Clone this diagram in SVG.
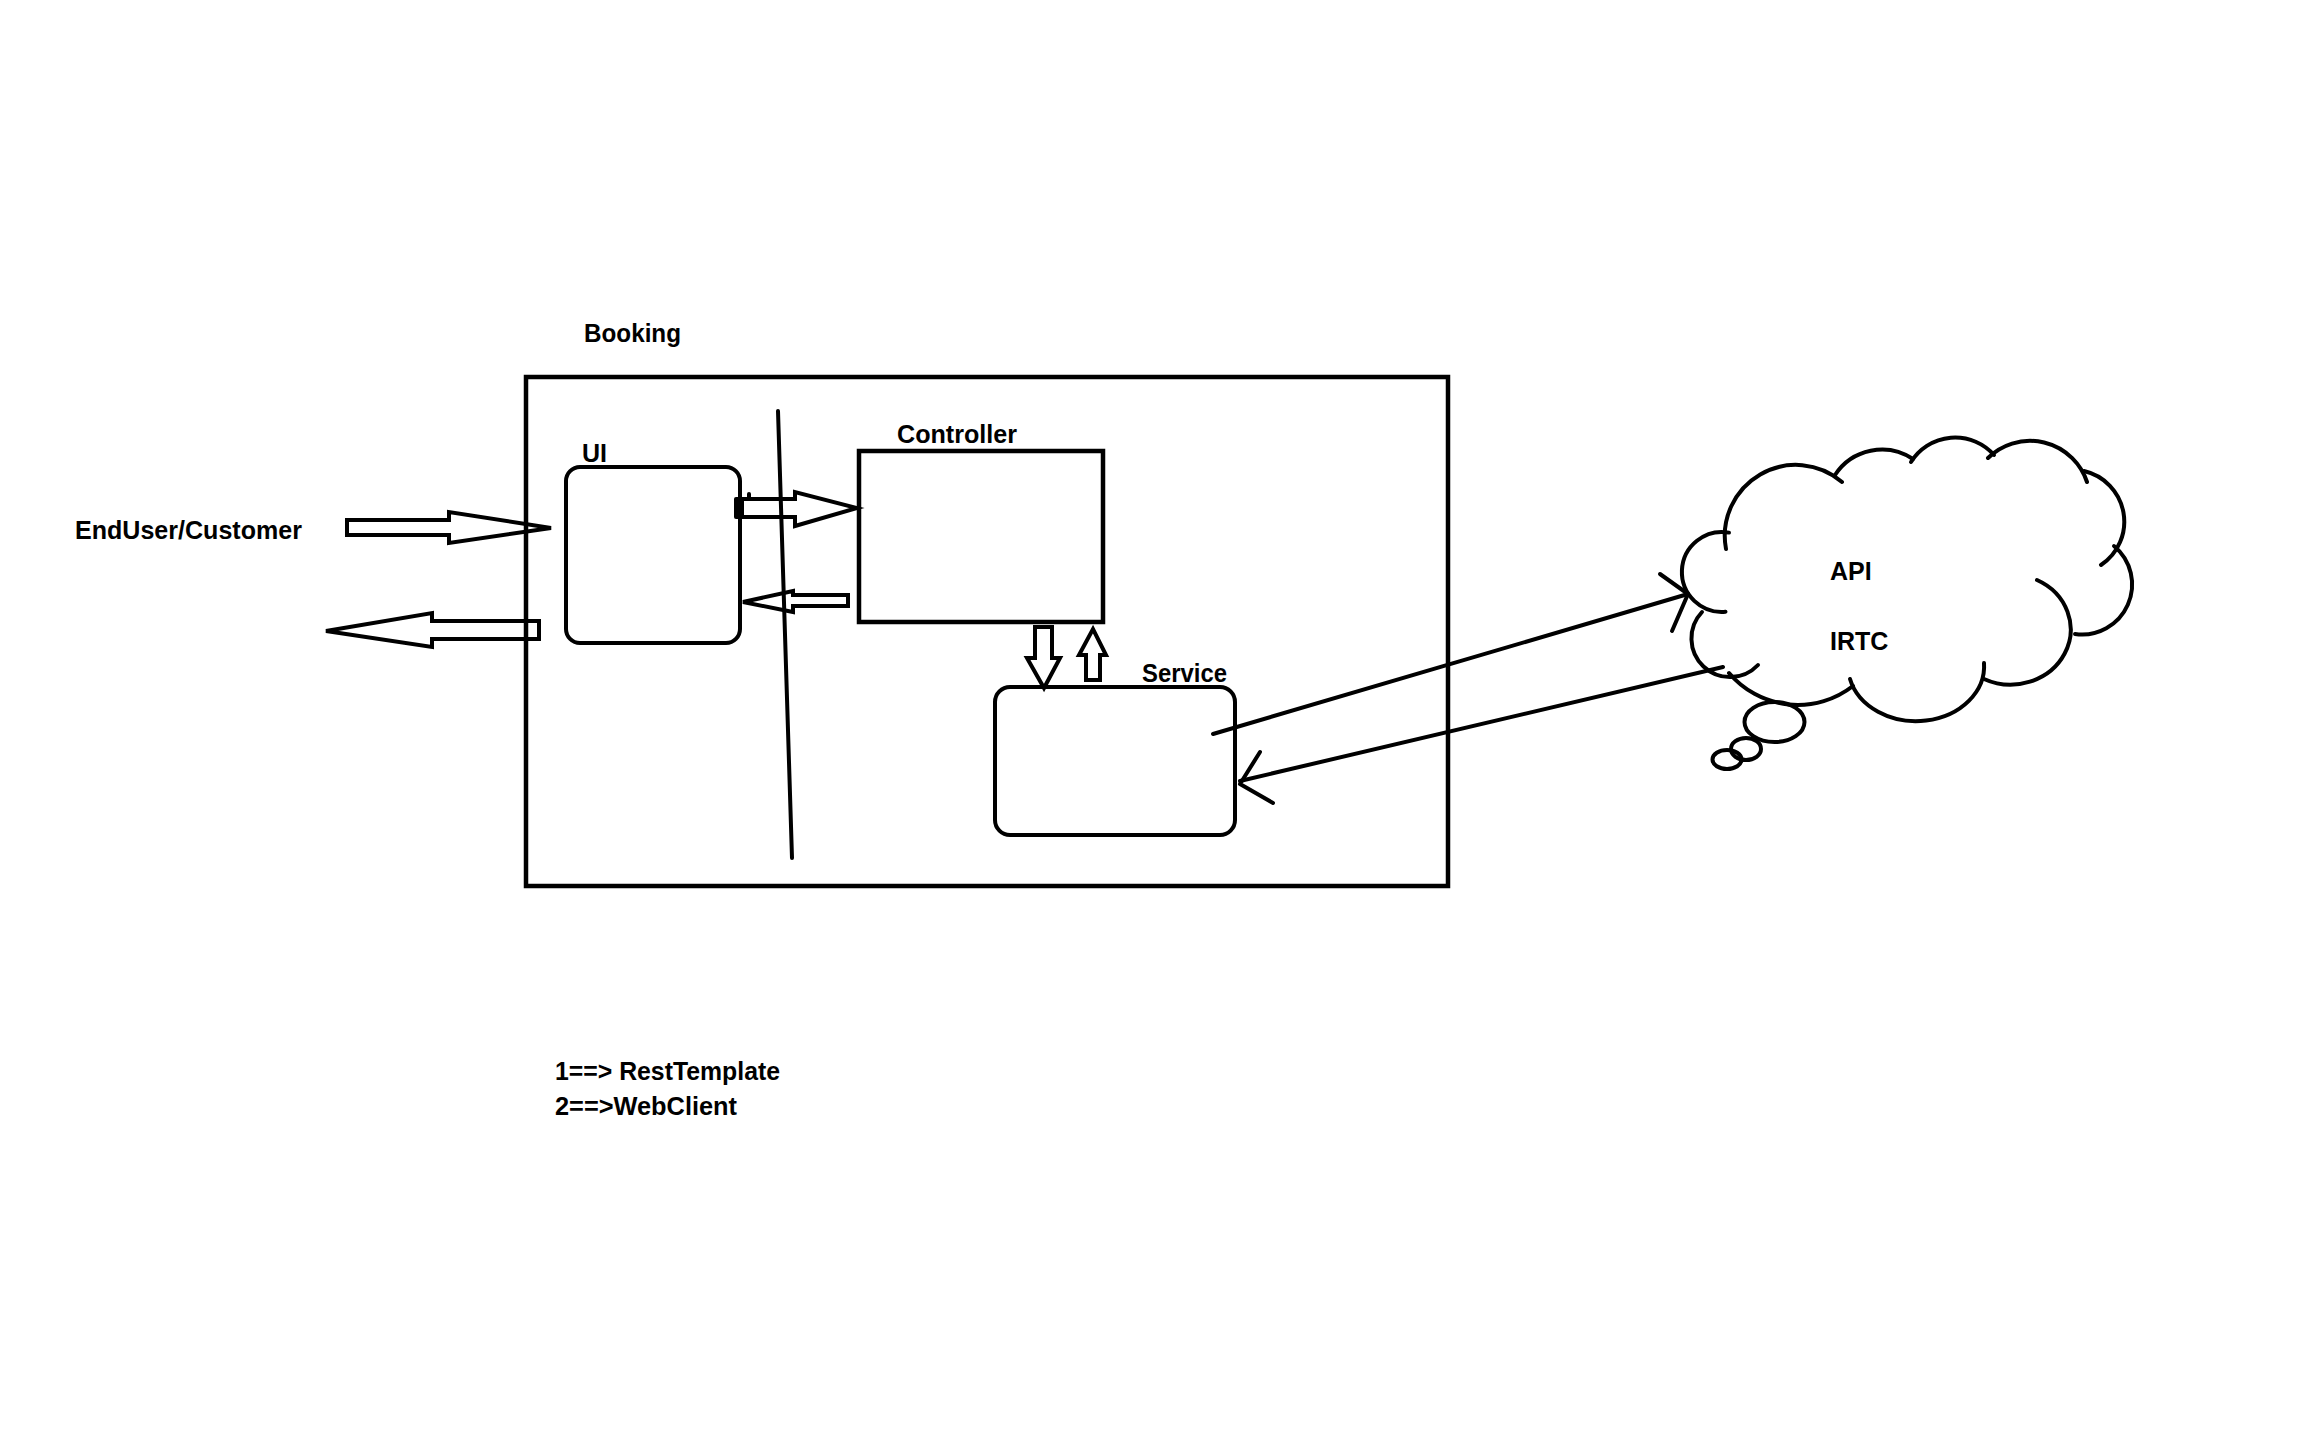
<svg xmlns="http://www.w3.org/2000/svg" width="2304" height="1440" viewBox="0 0 2304 1440">
  <style>
    .box { fill: none; stroke: #000; stroke-width: 4.5; }
    .ln { fill: none; stroke: #000; stroke-width: 4; stroke-linecap: round; stroke-linejoin: round; }
    .blk { fill: none; stroke: #000; stroke-width: 4; stroke-linejoin: miter; }
    .lbl { font-family: "Liberation Sans", Arial, sans-serif; font-weight: bold; font-size: 25px; fill: #000; }
  </style>
  <rect width="2304" height="1440" fill="#fff"/>

  <!-- Booking container -->
  <g id="booking">
    <rect class="box" x="526" y="377" width="922" height="509"/>
    <text class="lbl" x="584" y="342" textLength="97" lengthAdjust="spacingAndGlyphs">Booking</text>
  </g>

  <!-- Layer divider -->
  <g id="divider">
    <line class="ln" x1="778" y1="411" x2="792" y2="858"/>
  </g>

  <g id="ui">
    <rect class="box" x="566" y="467" width="174" height="176" rx="14" ry="14" style="stroke-width:4"/>
    <text class="lbl" x="582" y="462">UI</text>
  </g>

  <g id="controller">
    <rect class="box" x="859" y="451" width="244" height="171"/>
    <text class="lbl" x="897" y="443" textLength="120" lengthAdjust="spacingAndGlyphs">Controller</text>
  </g>

  <g id="service">
    <rect class="box" x="995" y="687" width="240" height="148" rx="15" ry="15" style="stroke-width:4"/>
    <text class="lbl" x="1142" y="682" textLength="85" lengthAdjust="spacingAndGlyphs">Service</text>
  </g>

  <g id="enduser">
    <text class="lbl" x="75" y="539" textLength="227" lengthAdjust="spacingAndGlyphs">EndUser/Customer</text>
  </g>

  <!-- External API cloud -->
  <g id="api-cloud">
    <path class="ln" d="M1725.5,611.8 A40,40 0 1 1 1729,532.6"/>
    <path class="ln" d="M1726,549 A71,71 0 0 1 1842,482"/>
    <path class="ln" d="M1835,475 A56,56 0 0 1 1913,459"/>
    <path class="ln" d="M1911,462 A52,52 0 0 1 1994,455"/>
    <path class="ln" d="M1988,458 A60,60 0 0 1 2087,482"/>
    <path class="ln" d="M2084,471 A52,52 0 0 1 2101,565"/>
    <path class="ln" d="M2114,546 A50,50 0 0 1 2075,634"/>
    <path class="ln" d="M2037,580 A60,55 0 1 1 1984,679"/>
    <path class="ln" d="M1984,663 A68,55 0 0 1 1850,679"/>
    <path class="ln" d="M1853,686 A90,90 0 0 1 1729,673"/>
    <path class="ln" d="M1702,612 A38,38 0 0 0 1758,665"/>
    <ellipse class="ln" cx="1774.5" cy="722" rx="30" ry="20"/>
    <ellipse class="ln" cx="1746" cy="749" rx="15" ry="11"/>
    <ellipse class="ln" cx="1727" cy="759.5" rx="14.5" ry="9.5"/>
    <text class="lbl" x="1830" y="580">API</text>
    <text class="lbl" x="1830" y="650">IRTC</text>
  </g>

  <!-- Connectors -->
  <g id="connectors">
    <!-- customer request / response -->
    <polygon class="blk" points="347,520 449,520 449,512 551,528 449,543 449,535 347,535"/>
    <polygon class="blk" points="539,621 432,621 432,613 326,631 432,647 432,639 539,639"/>
    <!-- UI to controller -->
    <polygon class="blk" points="742,499 795,499 795,492 857,508 795,526 795,517 742,517"/>
    <rect x="734" y="497" width="8" height="22" rx="2" fill="#000"/>
    <line class="ln" x1="749" y1="494" x2="749" y2="499"/>
    <!-- controller to UI -->
    <polygon class="blk" points="848,595 793,595 793,591 743,602 793,612 793,606 848,606"/>
    <!-- controller to service and back -->
    <polygon class="blk" points="1035,627 1052,627 1052,658 1060,658 1044,688 1027,658 1035,658"/>
    <polygon class="blk" points="1086,680 1100,680 1100,655 1106,655 1093,629 1079,655 1086,655"/>
    <!-- service to API -->
    <line class="ln" x1="1213" y1="734" x2="1688" y2="594"/>
    <polyline class="ln" points="1660,574 1688,594 1672,631"/>
    <!-- API to service -->
    <line class="ln" x1="1723" y1="667" x2="1240" y2="781"/>
    <polyline class="ln" points="1260,752 1240,784 1273,803"/>
  </g>

  <g id="legend">
    <text class="lbl" x="555" y="1080" textLength="225" lengthAdjust="spacingAndGlyphs">1==&gt; RestTemplate</text>
    <text class="lbl" x="555" y="1115" textLength="182" lengthAdjust="spacingAndGlyphs">2==&gt;WebClient</text>
  </g>
</svg>
